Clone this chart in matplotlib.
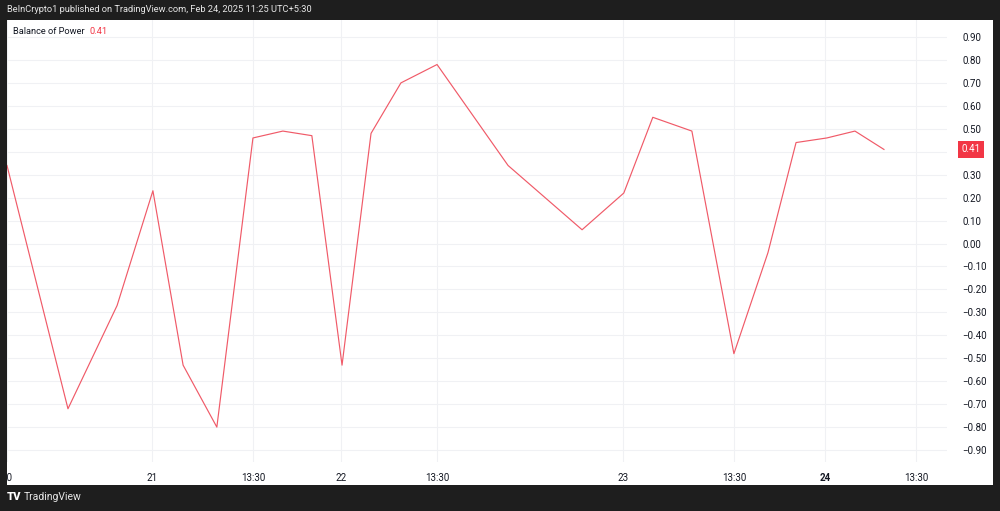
import numpy as np
import matplotlib
matplotlib.use("Agg")
import matplotlib.pyplot as plt
from matplotlib.patches import Rectangle
import matplotlib.transforms as mtransforms

plt.rcParams['font.family'] = ['Roboto', 'DejaVu Sans']

# =====================================================
# DATA (Balance of Power)
# =====================================================

# x positions in bar units (irregular spacing on the time scale)
bar_pos = [0.0, 2.06, 3.72, 4.93, 5.95, 7.09, 8.31, 9.32, 10.30, 11.32, 12.30, 13.31,
           14.53, 16.93, 19.43, 20.84, 21.82, 23.14, 24.56, 25.71, 26.66, 27.70, 28.65, 29.63]
bop = [0.34, -0.72, -0.27, 0.23, -0.53, -0.80, 0.46, 0.49, 0.47, -0.53, 0.48, 0.70,
       0.78, 0.34, 0.06, 0.22, 0.55, 0.49, -0.48, -0.04, 0.44, 0.46, 0.49, 0.41]

tick_pos = [0.0, 4.90, 8.31, 11.28, 14.53, 20.81, 24.56, 27.64, 30.71]
tick_labels = ["20", "21", "13:30", "22", "13:30", "23", "13:30", "24", "13:30"]

y_ticks = np.round(np.arange(-0.9, 0.91, 0.1), 2) + 0.0
last_value = bop[-1]

LINE = "#f05a68"
RED = "#f23645"
DARK = "#1e1e1e"
TXT = "#131722"
GRID = "#f0f1f4"
FS = 7

W, H = 1000, 511

fig = plt.figure(figsize=(10, 5.11), dpi=100)
fig.patch.set_facecolor(DARK)

# white chart panel (behind the axes)
fig.patches.append(Rectangle((7 / W, (H - 485) / H), 986 / W, 465 / H,
                             transform=fig.transFigure, facecolor="white",
                             edgecolor="none", zorder=-1))

ax = fig.add_axes([7 / W, (H - 462) / H, 940 / W, 442 / H])
ax.set_zorder(2)
ax.set_facecolor("white")

ax.plot(bar_pos, bop, color=LINE, linewidth=0.85, zorder=3)

ax.set_xlim(0, 31.76)
ax.set_ylim(-0.952, 0.974)

# the 0.40 label sits under the value badge
ylabels = []
for v in y_ticks:
    if abs(v - 0.4) < 1e-6:
        ylabels.append("")
    else:
        ylabels.append(f"{abs(v) if abs(v) < 1e-9 else v:.2f}".replace("-", "\u2212"))
ax.set_yticks(y_ticks)
ax.set_yticklabels(ylabels)
ax.yaxis.tick_right()
ax.tick_params(axis="y", length=0, pad=11, labelsize=FS, labelcolor=TXT)

ax.set_xticks(tick_pos)
ax.set_xticklabels(tick_labels)
ax.tick_params(axis="x", length=0, pad=8, labelsize=FS, labelcolor=TXT)
for lbl in ax.get_xticklabels():
    if lbl.get_text() == "24":
        lbl.set_fontweight("bold")

ax.grid(True, color=GRID, linewidth=0.8, zorder=0)
for s in ax.spines.values():
    s.set_visible(False)

# legend text top-left
ax.text(6 / 940, 1 - 11 / 442, "Balance of Power", transform=ax.transAxes,
        fontsize=6.7, color=TXT, va="center", ha="left")
ax.text(82 / 940, 1 - 11 / 442, f"{last_value:.2f}", transform=ax.transAxes,
        fontsize=6.7, color=RED, va="center", ha="left")

# last value badge on the price scale
trans = mtransforms.blended_transform_factory(ax.transAxes, ax.transData)
ax.text(1 + 24 / 940, last_value, f"{last_value:.2f}", transform=trans,
        fontsize=FS, color="white", va="center", ha="center",
        bbox=dict(boxstyle="square,pad=0.35", facecolor=RED, edgecolor="none"),
        clip_on=False)

# frame covers the cut-off first label
fig.patches.append(Rectangle((0, 0), 7 / W, 1, transform=fig.transFigure,
                             facecolor=DARK, edgecolor="none", zorder=5))

# header and footer
fig.text(7 / W, 1 - 10 / H, "BeInCrypto1 published on TradingView.com, Feb 24, 2025 11:25 UTC+5:30",
         color="#e8e8e8", fontsize=6.7, va="center", ha="left")
fig.text(7 / W, 1 - 497 / H, "TV", color="white", fontsize=8, fontweight="black",
         va="center", ha="left")
fig.text(24 / W, 1 - 497 / H, "TradingView", color="#e8e8e8", fontsize=7.5,
         va="center", ha="left")

fig.savefig("out.png", dpi=100, facecolor=fig.get_facecolor())
